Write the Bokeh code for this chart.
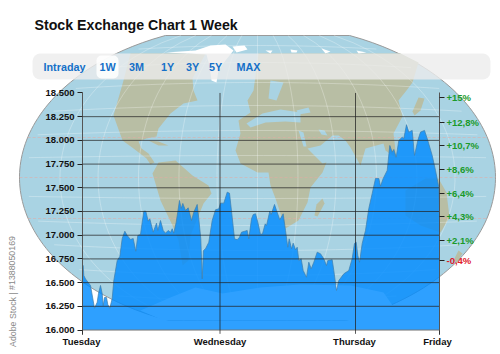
import numpy as np
from bokeh.plotting import figure
from bokeh.models import Range1d, LinearAxis, FixedTicker
from bokeh.core.properties import value
from bokeh.embed import file_html
from bokeh.resources import INLINE

# ---------- chart data ----------
title = "Stock Exchange Chart 1 Week"
periods = ["Intraday", "1W", "3M", "1Y", "3Y", "5Y", "MAX"]
days = ["Tuesday", "Wednesday", "Thursday", "Friday"]
day_pos = [-1, 137.5, 272, 355]
grid_day_pos = [137.5, 273]
y_ticks = [16000, 16250, 16500, 16750, 17000, 17250, 17500, 17750, 18000, 18250, 18500]
y_labels = ["16.000", "16.250", "16.500", "16.750", "17.000", "17.250", "17.500", "17.750", "18.000", "18.250", "18.500"]
pct_pos = [18453, 18192, 17946, 17693, 17443, 17194, 16941]
pct_labels = ["+15%", "+12,8%", "+10,7%", "+8,6%", "+6,4%", "+4,3%", "+2,1%"]
neg_pos = [16730]
neg_labels = ["-0,4%"]

t = [0, 0.7, 1.3, 3, 8, 12, 14.7, 16, 18, 19.7, 20.7, 22, 24, 25.3, 27.3, 29.7, 31.3, 34.7, 37.3, 39.7, 42.3, 44.7, 48,
     50.7, 53.3, 55.3, 58, 59.7, 61.3, 63.3, 65.7, 67.3, 70.7, 74, 75.3, 78, 80.7, 83, 85.7, 88, 89.7, 91.3, 93.7, 97,
     98.7, 100.3, 103, 105.7, 109, 111.3, 114.7, 116.3, 118.3, 119.7, 121, 123, 126.3, 129.7, 133, 136.3, 138, 141.3,
     144.7, 147, 149.7, 152, 154.7, 157, 159, 162.3, 164.7, 166.3, 169, 170.7, 173, 175.3, 178, 180, 182.7, 184, 187.3,
     188.7, 192, 194, 197.3, 200.7, 203, 205.3, 206.7, 209, 210.7, 213, 214.7, 216.3, 218.7, 220.7, 224, 226.3, 228.7,
     231.3, 234.7, 238, 241.3, 244, 245.3, 249.7, 251.3, 254, 256.3, 261.3, 266.3, 269.7, 272, 273.7, 275.3, 277, 279.7,
     283, 286.3, 289.7, 293, 296.3, 298, 300.7, 304.7, 307.3, 309.7, 311.3, 313.7, 316.3, 319.7, 321.3, 324, 326.3,
     329.7, 332, 335.3, 338, 342, 345.3, 349.7, 353, 356.3, 357]
v = [16680, 16680, 16575, 16538, 16470, 16230, 16293, 16385, 16470, 16385, 16258, 16343, 16343, 16269, 16230, 16332, 16522,
     16733, 16775, 16965, 17042, 16997, 16955, 16965, 16831, 16997, 17008, 17137, 17253, 17253, 17148, 17173, 17032, 17127,
     17050, 17155, 17050, 17021, 17050, 17029, 17068, 17021, 17137, 17366, 17282, 17335, 17261, 17289, 17155, 17243, 17324,
     17173, 16962, 16540, 16839, 16857, 16926, 17155, 17268, 17279, 17338, 17338, 17454, 17443, 17190, 16962, 16952, 16979,
     17032, 17042, 17050, 16962, 17173, 17218, 17226, 17137, 17008, 17015, 17120, 17102, 17253, 17218, 17324, 17261, 17163,
     17226, 17050, 16873, 16962, 16857, 16916, 16846, 16873, 16733, 16751, 16628, 16557, 16715, 16646, 16715, 16821, 16804,
     16751, 16680, 16733, 16741, 16628, 16417, 16522, 16593, 16628, 16754, 16913, 16926, 16786, 16715, 16913, 17050, 17282,
     17440, 17598, 17598, 17517, 17598, 17683, 17946, 17876, 17904, 17823, 17999, 18034, 18020, 18165, 18087, 18105, 17841,
     17999, 18087, 18105, 17999, 17841, 17683, 17507, 17282]

# ---------- map artwork, in picture pixels ----------
north_america = [(130, 53), (205, 53), (192, 78), (193, 90), (197, 100), (183, 103), (170, 113), (158, 128), (156, 136),
                 (146, 138), (138, 141), (141, 148), (148, 153), (154, 162), (150, 164), (146, 158), (133, 148), (122, 140),
                 (113, 115), (123, 80)]
south_america = [(152, 173), (158, 162), (175, 160), (192, 175), (208, 185), (211, 193), (203, 203), (197, 218), (190, 235),
                 (188, 260), (182, 265), (178, 240), (172, 225), (160, 200)]
old_world = [(258, 53), (400, 53), (418, 62), (412, 82), (406, 90), (398, 100), (402, 116), (393, 133), (396, 158), (385, 150),
             (383, 143), (365, 148), (360, 165), (350, 147), (345, 140), (338, 135), (332, 135), (320, 145), (307, 148),
             (322, 163), (326, 162), (322, 172), (310, 187), (307, 202), (298, 220), (285, 228), (275, 198), (270, 185),
             (268, 172), (257, 172), (240, 163), (235, 150), (240, 133), (238, 120), (250, 112), (247, 100), (253, 90)]
seas = [[(246, 123), (262, 113), (280, 109), (300, 112), (300, 122), (285, 121), (265, 122), (250, 127)],
        [(296, 110), (308, 107), (310, 112), (298, 114)],
        [(298, 130), (303, 132), (306, 146), (303, 146)],
        [(318, 129), (324, 130), (327, 135), (321, 134)],
        [(270, 80), (283, 82), (276, 100), (268, 98)]]
australia = [(405, 190), (425, 178), (438, 178), (446, 192), (449, 217), (440, 232), (420, 225), (405, 215)]
madagascar = [(322, 198), (324, 203), (317, 216), (314, 215), (316, 204)]
cuba = [(148, 140), (158, 141), (168, 145), (158, 145)]
japan = [(418, 97), (424, 98), (420, 110), (414, 115), (412, 111)]
nz = [(458, 250), (462, 253), (456, 262), (453, 260)]
greenland = [(165, 52), (195, 50), (210, 45), (225, 44), (233, 50), (225, 60), (218, 70), (216, 82), (211, 80), (209, 65), (206, 54)]
islands = [[(232, 46), (244, 45), (247, 49), (236, 52)], [(265, 50), (272, 50), (270, 53)], [(290, 49), (297, 50), (296, 52), (291, 52)],
           [(321, 48), (330, 51), (325, 53)], [(356, 50), (366, 52), (358, 53)]]
antarctica = [(140, 310), (170, 297), (195, 287), (222, 293), (260, 287), (300, 284), (350, 285), (383, 292), (392, 305),
              (370, 318), (350, 320), (163, 320)]
parallels = [45, 62, 82, 105, 130, 155, 198, 225, 250, 275, 300]
tropics = [137, 177, 218]
meridians = [-0.83, -0.67, -0.5, -0.33, -0.17, 0, 0.17, 0.33, 0.5, 0.67, 0.83]
period_x = [64, 107, 136, 167, 192, 215, 248]

CX, CY, HW, HH, TOP, BOT = 257, 177, 238, 154, 35, 320
def half(y):
    return HW * np.sqrt(np.clip(1 - ((np.asarray(y, float) - CY) / HH) ** 2, 0, 1))

# main scales: x = trading position, y = index points; "px" = picture pixels
p = figure(width=500, height=354, output_backend="svg", toolbar_location=None,
           x_range=Range1d(-82, 418), y_range=Range1d(15742, 19475),
           x_axis_type=None, y_axis_type=None, min_border=0, outline_line_color=None,
           background_fill_color="white", border_fill_color="white")
p.grid.visible = False
p.extra_x_ranges["px"] = Range1d(0, 500)
p.extra_y_ranges["px"] = Range1d(354, 0)
PX = dict(x_range_name="px", y_range_name="px")

def poly(pts, color, **kw):
    xs, ys = zip(*pts)
    p.patch(list(xs), list(ys), fill_color=color, line_color=None, **PX, **kw)

OCEAN, LAND = "#a9d3e3", "#b8bea4"
ys = np.linspace(TOP, BOT, 80)
outline = list(zip(CX - half(ys), ys)) + list(zip(CX + half(ys[::-1]), ys[::-1]))
xs_o, ys_o = zip(*outline)
p.patch(list(xs_o), list(ys_o), fill_color=OCEAN, line_color="#9a9a9a", line_width=1, **PX)

for shape in [north_america, south_america, old_world, australia, madagascar, cuba, japan, nz]:
    poly(shape, LAND)
for sea in seas:
    poly(sea, OCEAN)
poly(greenland, "white")
for isl in islands:
    poly(isl, "white")
poly(antarctica, "white")

# graticule
for f in meridians:
    yy = np.linspace(TOP, BOT, 40)
    p.line(CX + f * half(yy), yy, line_color="white", line_alpha=0.28, line_width=1, **PX)
for y0 in parallels:
    w = float(half(y0)) * 0.97
    xx = np.linspace(CX - w, CX + w, 40)
    yy = y0 + 14 * ((xx - CX) / HW) ** 2 * (CY - y0) / 130
    p.line(xx, yy, line_color="white", line_alpha=0.28, line_width=1, **PX)
for y0 in tropics:
    w = float(half(y0))
    p.line([CX - w, CX + w], [y0, y0], line_color="#e8a8a0", line_alpha=0.5, line_width=1, line_dash="3 2", **PX)

# the index area
p.varea(x=t, y1=[16000] * len(t), y2=v, fill_color="#008bff", fill_alpha=0.82)
p.line(t, v, line_color="#3d7fae", line_width=0.8, line_alpha=0.9)

# grid lines
p.segment(x0=[0] * 9, x1=[357] * 9, y0=y_ticks[1:10], y1=y_ticks[1:10], line_color="#222222", line_alpha=0.72, line_width=1)
p.segment(x0=[0], x1=[357], y0=[16000], y1=[16000], line_color="#777777", line_width=1)
p.segment(x0=grid_day_pos, x1=grid_day_pos, y0=[15960] * 2, y1=[18500] * 2, line_color="#222222", line_alpha=0.75, line_width=1)
p.segment(x0=[0, 357], x1=[0, 357], y0=[15950] * 2, y1=[16000] * 2, line_color="#333333", line_width=1)

# period bar
p.quad(left=[32], right=[490], top=[53], bottom=[79], fill_color="#ececec", fill_alpha=0.8, line_color=None, border_radius=8, **PX)
p.quad(left=[96], right=[118], top=[55], bottom=[78], fill_color="#ffffff", fill_alpha=0.85, line_color=None, border_radius=5, **PX)
p.text(x=period_x, y=[66.5] * 7, text=periods, text_align="center", text_baseline="middle",
       text_color="#1570c8", text_font=value("Liberation Sans"), text_font_style="bold", text_font_size="10.8px", **PX)

p.text(x=[34], y=[24], text=[title], text_align="left", text_baseline="middle", text_color="#111111",
       text_font=value("Liberation Sans"), text_font_style="bold", text_font_size="14.2px", **PX)
p.text(x=[12], y=[291], text=["Adobe Stock | #1388050169"], angle=[np.pi / 2], text_align="center", text_baseline="middle",
       text_color="#888888", text_font=value("Liberation Sans"), text_font_size="8.8px", **PX)

# axes
def axis(side, loc, ticks, labels, color, line=True, tick=True, standoff=3, **kw):
    a = LinearAxis(fixed_location=loc, ticker=FixedTicker(ticks=ticks),
                   major_label_overrides=dict(zip(ticks, labels)),
                   major_tick_in=0, major_tick_out=5, major_tick_line_color="#222222" if tick else None, major_tick_line_width=1,
                   minor_tick_line_color=None,
                   axis_line_color="#555555" if line else None, axis_line_width=1,
                   major_label_text_color=color, major_label_text_font="Liberation Sans",
                   major_label_text_font_style="bold", major_label_text_font_size="9.5px",
                   major_label_standoff=standoff, **kw)
    p.add_layout(a, side)

axis("left", 0, y_ticks, y_labels, "#111111", bounds=(16000, 18500))
axis("right", 357, pct_pos, pct_labels, "#1a9a2a", standoff=2, bounds=(16000, 18500))
axis("right", 357, neg_pos, neg_labels, "#e0202a", line=False, standoff=2)
axis("below", 16000, day_pos, days, "#111111", line=False, tick=False, standoff=1)

open("out.html", "w").write(file_html(p, INLINE))
